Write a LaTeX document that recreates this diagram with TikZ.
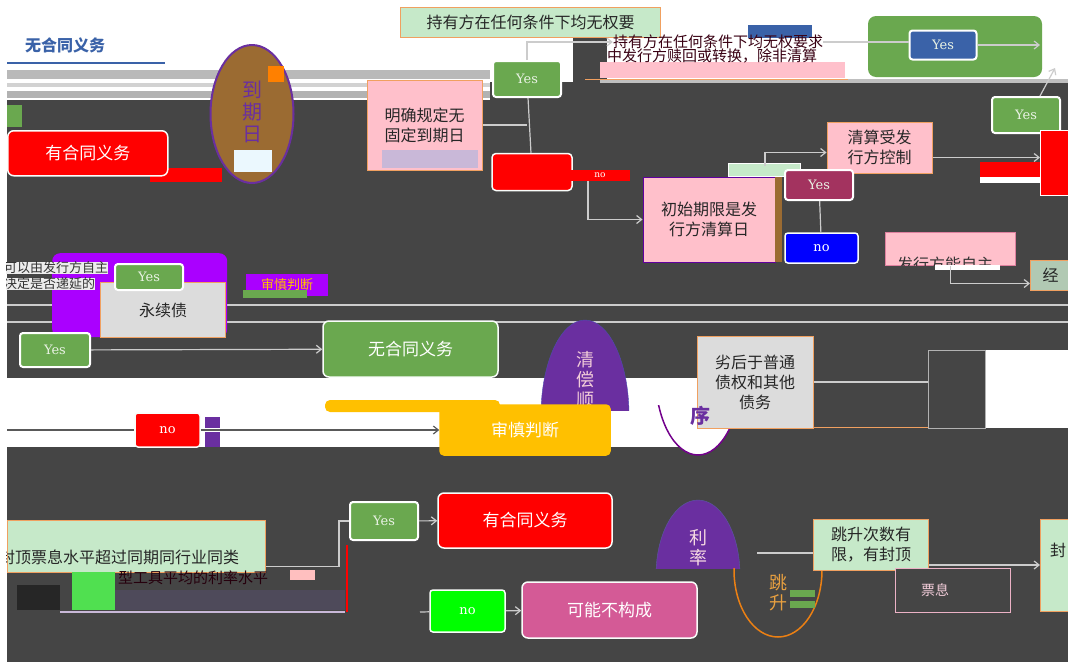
\documentclass[tikz,border=0pt]{standalone}
\usepackage{fontspec}
\setmainfont{Noto Sans CJK SC}
\newfontfamily\yesfont{DejaVu Serif}
\usetikzlibrary{shapes.geometric,arrows.meta}
\definecolor{bg}{HTML}{454545}
\definecolor{gg}{HTML}{6AA84F}
\definecolor{lgreen}{HTML}{C6E9C9}
\definecolor{pinkb}{HTML}{FFC0CB}
\definecolor{bord}{HTML}{F0A060}
\definecolor{purp}{HTML}{6A2FA0}
\definecolor{brownb}{HTML}{9B6B32}
\definecolor{blueb}{HTML}{3A62A8}
\definecolor{maroonb}{HTML}{A3335F}
\definecolor{rose}{HTML}{D45A96}
\definecolor{yel}{HTML}{FFC000}
\definecolor{vio}{HTML}{AA00FF}
\definecolor{lgray}{HTML}{DCDCDC}
\definecolor{lime}{HTML}{00FF00}
\definecolor{lav}{HTML}{C9B8D8}
\definecolor{sqgreen}{HTML}{50E050}
\definecolor{darkpg}{HTML}{4E4A5A}
\definecolor{orangetxt}{HTML}{E8A040}
\tikzset{
 every node/.style={inner sep=0pt},
 cbox/.style={draw=white!90!lgreen, line width=1.5pt, rounded corners=6pt, font=\fontsize{17}{20}\selectfont, text=white},
 tbox/.style={draw=bord, line width=1pt, font=\fontsize{16}{20}\selectfont, text=black!85, align=center},
 yesbox/.style={draw=white, line width=2pt, rounded corners=3pt, fill=gg, font=\yesfont\fontsize{13}{15}\selectfont, text=white!85!gg, minimum width=68pt, minimum height=36pt},
 nobox/.style={cbox, rounded corners=3pt, font=\yesfont\fontsize{13}{15}\selectfont},
 link/.style={draw=white!80!black, line width=1.2pt},
 dlink/.style={draw=black!65, line width=1.2pt},
 arr/.style={link, -{Straight Barb[length=5pt,width=8pt]}},
 darr/.style={dlink, -{Straight Barb[length=5pt,width=8pt]}},
 vert/.style={align=center, font=\fontsize{19}{21}\selectfont},
}
\begin{document}
\begin{tikzpicture}[x=1pt,y=-1pt]
\useasboundingbox (0,0) rectangle (1068,662);
% background
\fill[white] (0,0) rectangle (1068,662);
\fill[bg] (7,100) rectangle (1068,662);
\fill[bg] (490,82) rectangle (1068,100);
\fill[bg] (573,35) rectangle (607,82);
\fill[gray!55] (7,70) rectangle (490,79);
\fill[gray!35] (7,83) rectangle (490,87);
\fill[gray!60] (7,91) rectangle (490,98);
\fill[gray!50] (600,79) rectangle (1068,83);
\draw[bord, line width=1pt] (585,79) -- (848,79);
\fill[pinkb] (600,62) rectangle (845,78);
\fill[blueb] (748,25) rectangle (812,38);
\fill[white] (7,378) rectangle (697,447);
\fill[white] (985,350) rectangle (1068,428);
\draw[white!80!black, line width=1.5pt] (7,305) -- (1068,305);
\draw[white!80!black, line width=1.5pt] (7,322) -- (1068,322);

% title
\node[font=\fontsize{16}{18}\selectfont\bfseries, text=blueb] (title) at (65,45) {无合同义务};
\draw[blueb, line width=2pt] (7,63) -- (165,63);
\fill[gg] (7,105) rectangle (22,127);

% 有合同义务 (left)
\fill[red] (150,168) rectangle (222,182);
\node[cbox, fill=red, minimum width=160pt, minimum height=45pt, anchor=north west] (hy1) at (7,130) {有合同义务};

% 到期日 oval
\node[ellipse, draw=purp, line width=2pt, fill=brownb, minimum width=83pt, minimum height=138pt] (dq) at (252,114) {};
\fill[orange] (268,66) rectangle (284,82);
\fill[cyan!8] (234,150) rectangle (272,172);
\node[vert, text=purp, font=\fontsize{20}{22}\selectfont] (dqt) at (252,112) {到\\期\\日};

% 明确规定无固定到期日
\node[tbox, fill=pinkb, minimum width=115pt, minimum height=90pt] (mq) at (424.5,125) {明确规定无\\固定到期日};
\fill[lav] (382,150) rectangle (478,168);

% Yes and red box
\node[yesbox] (y1) at (527,79) {Yes};
\node[cbox, fill=red, minimum width=80pt, minimum height=37pt, rounded corners=4pt] (r2) at (532,172) {};
\draw[link] (y1) -- (r2);
\draw[link] (mq.east) -- (mq.east -| y1);

% top text box
\node[tbox, fill=lgreen, minimum width=260pt, minimum height=30pt, anchor=north west] (cy) at (400,7) {持有方在任何条件下均无权要};
\node[font=\fontsize{15}{17}\selectfont, text=black!70!purple] (cy2) at (718,42) {持有方在任何条件下均无权要求};
\node[font=\fontsize{15}{17}\selectfont, text=black!70!purple] (cy3) at (712,56) {中发行方赎回或转换，除非清算};
\draw[arr] (y1.north) |- (cy2.west);

% top right green and Yes
\fill[gg, rounded corners=8pt] (868,16) rectangle (1042,77);
\node[yesbox, fill=blueb, minimum width=67pt, minimum height=29pt] (y2) at (943,45) {Yes};
\coordinate (e1) at (1040,45);
\draw[link] (cy2.east) -- (cy2.east -| y2.west);
\draw[arr] (y2.east) -- (e1);

\node[yesbox, minimum height=36pt] (y3) at (1026,115) {Yes};
\coordinate (e2) at (1055,68);
\draw[arr] ([xshift=14pt]y3.north) -- (e2);
\node[fill=red, draw=white, line width=1pt, minimum width=30pt, minimum height=65pt, anchor=north west] (rR) at (1040,130) {};

% 清算受发行方控制
\node[tbox, fill=pinkb, minimum width=105pt, minimum height=51pt] (qs) at (879.5,147.5) {清算受发\\行方控制};
\draw[arr] ([yshift=-10pt]qs.east) -- ([yshift=-10pt]qs.east -| rR.west);
\fill[red] (980,162) rectangle (1040,177);
\fill[white] (980,177) rectangle (1040,183);
\fill[lgreen, draw=white] (728,163) rectangle (800,176);
\node[yesbox, fill=maroonb, minimum width=68pt, minimum height=30pt] (y4) at (819,185) {Yes};
\coordinate (c4) at (765,166);
\draw[arr] (c4) |- ([yshift=-5pt]qs.west);
\node[nobox, fill=blue, minimum width=73pt, minimum height=30pt] (n1) at (821.5,248) {no};
\draw[link] (y4) -- (n1);

% 初始期限是发行方清算日
\node[tbox, draw=purple!50!blue, fill=pinkb, minimum width=132pt, minimum height=85pt] (cs) at (709,219.5) {初始期限是发\\行方清算日};
\fill[brownb] (775,177) rectangle (782,262);
\node[fill=red, minimum width=60pt, minimum height=11pt, font=\yesfont\fontsize{9}{10}\selectfont, text=white] (noS) at (600,175) {no};
\draw[arr] ([xshift=-12pt]noS.south) |- (cs.west);

% 发行方能自主
\node[tbox, draw=purple!50, fill=pinkb, minimum width=130pt, minimum height=33pt, anchor=north west] (fz) at (885,232) {};
\node[font=\fontsize{16}{18}\selectfont, text=black!80] (fzt) at (945,264) {发行方能自主};
\fill[bg] (870,266) rectangle (1025,276);
\fill[white] (935,265) rectangle (1000,270);
\node[tbox, fill=lgreen!70!gray, minimum width=40pt, minimum height=30pt, anchor=north west] (jb) at (1030,260) {经};
\draw[arr] (fz.south) |- ([yshift=-8pt]jb.west);

% left middle
\node[fill=vio, rounded corners=8pt, minimum width=175pt, minimum height=84pt, anchor=north west] (vb) at (52,253) {};
\node[tbox, fill=lgray, minimum width=125pt, minimum height=55pt, anchor=north west] (yx) at (100,282) {永续债};
\node[yesbox, minimum height=26pt] (y5) at (149,277) {Yes};
\node[font=\fontsize{13}{15}\selectfont, text=black!80, fill=white!85!gray, anchor=west] (lt1) at (4,268) {可以由发行方自主};
\node[font=\fontsize{13}{15}\selectfont, text=black!80, fill=white!85!gray, anchor=west] (lt2) at (4,284) {决定是否递延的};
\node[fill=vio, font=\fontsize{13}{15}\selectfont, text=yel, minimum width=82pt, minimum height=22pt] (s1) at (287,285) {审慎判断};
\fill[gg] (243,290) rectangle (307,298);

\node[yesbox, minimum width=70pt, minimum height=34pt] (y6) at (55,350) {Yes};
\node[cbox, fill=gg, minimum width=175pt, minimum height=56pt] (w1) at (410.5,349) {无合同义务};
\draw[arr] (y6) -- (w1);

% 清偿顺序 oval
\begin{scope}
\clip (0,0) rectangle (1068,410);
\node[ellipse, fill=purp, draw=blue!40!gray, minimum width=88pt, minimum height=190pt] (o2) at (585,415) {};
\end{scope}
\fill[purp] (538,408) rectangle (610,420);
\node[vert, text=white!80!purple, font=\fontsize{18}{20}\selectfont] (o2t) at (585,380) {清\\偿\\顺};
\begin{scope}
\clip (640,405) rectangle (760,462);
\node[ellipse, draw=blue!40!purple, line width=1.5pt, fill=white, minimum width=85pt, minimum height=160pt] (o2b) at (698,375) {};
\end{scope}

% 劣后于普通债权和其他债务
\node[tbox, fill=lgray, minimum width=116pt, minimum height=92pt] (lh) at (755,382) {劣后于普通\\债权和其他\\债务};
\node[draw=bord, fill=bg, minimum width=115pt, minimum height=45pt, anchor=north west] (db) at (813,382) {};
\node[draw=white!70!black, fill=bg, minimum width=57pt, minimum height=78pt, anchor=north west] (dk) at (928,350) {};
\draw[link] (lh.east) -- (lh.east -| dk.west);
\node[font=\fontsize{20}{22}\selectfont\bfseries, text=purp] (xu) at (700,416) {序};

% no -> 审慎判断
\fill[yel, rounded corners=5pt] (325,400) rectangle (500,412);
\node[nobox, fill=red, minimum width=65pt, minimum height=34pt] (n2) at (167.5,430) {no};
\fill[purp] (205,417) rectangle (220,428);
\fill[purp] (205,432) rectangle (220,447);
\node[cbox, draw=yel, fill=yel, rounded corners=4pt, minimum width=170pt, minimum height=50pt] (s2) at (525,430) {审慎判断};
\coordinate (c7) at (7,430);
\draw[dlink] (c7) -- (n2);
\draw[darr] (n2) -- (s2);

% bottom left
\node[tbox, fill=lgreen, minimum width=258pt, minimum height=52pt, anchor=north west] (fd) at (7,520) {};
\node[font=\fontsize{16}{18}\selectfont, text=black!85, anchor=west] (fdt) at (-1,557) {封顶票息水平超过同期同行业同类};
\fill[pink] (290,570) rectangle (315,580);
\fill[sqgreen] (72,572) rectangle (115,610);
\fill[darkpg] (115,590) rectangle (345,610);
\fill[black!85] (17,585) rectangle (60,610);
\draw[lav, line width=1.5pt] (60,612) -- (345,612);
\node[font=\fontsize{15}{17}\selectfont, text=black!80!purple, anchor=west] (fdt2) at (118,578) {型工具平均的利率水平};

\node[yesbox, minimum height=38pt] (y7) at (384,521) {Yes};
\draw[link] ([yshift=-20pt]fd.east) -| ([xshift=-10pt]y7.west) -- (y7.west);
\draw[red, line width=2pt] (347,545) -- (347,612);
\node[cbox, fill=red, minimum width=174pt, minimum height=55pt] (h2) at (525,520.5) {有合同义务};
\draw[arr] (y7) -- (h2);
\node[nobox, fill=lime, minimum width=75pt, minimum height=42pt] (n3) at (467.5,611) {no};
\node[cbox, fill=rose, minimum width=175pt, minimum height=56pt] (kn) at (609.5,610) {可能不构成};
\coordinate (c9) at (420,612);
\draw[link] (c9) -- (n3);
\draw[arr] (n3) -- (kn);

% 利率跳升 oval
\begin{scope}
\clip (0,0) rectangle (1068,568);
\node[ellipse, fill=purp, draw=blue!30!gray, minimum width=84pt, minimum height=150pt] (o3) at (698,575) {};
\node[vert, text=white!85!purple, font=\fontsize{18}{20}\selectfont] (o3t) at (698,548) {利\\率};
\end{scope}
\begin{scope}
\clip (725,568) rectangle (835,645);
\node[ellipse, draw=orange!70!brown, line width=1.5pt, minimum width=88pt, minimum height=134pt] (o3b) at (778,570) {};
\end{scope}
\node[vert, text=orangetxt, font=\fontsize{18}{20}\selectfont] (o3c) at (778,593) {跳\\升};
\fill[gg] (790,590) rectangle (815,597);
\fill[gg] (790,601) rectangle (815,608);

\node[tbox, fill=lgreen, minimum width=115pt, minimum height=51pt, anchor=north west] (ts) at (813,519) {跳升次数有\\限，有封顶};
\coordinate (c10) at (757,553);
\draw[link] (c10) -- (c10 -| ts.west);
\node[draw=white!70!purple, fill=bg, minimum width=115pt, minimum height=44pt, anchor=north west] (pb) at (895,568) {};
\node[font=\fontsize{14}{16}\selectfont, text=white!80!purple] (pbt) at (935,590) {票息};
\node[tbox, fill=lgreen, minimum width=40pt, minimum height=92pt, anchor=north west] (rb) at (1040,519) {};
\node[font=\fontsize{16}{18}\selectfont, text=black!85] (rbt) at (1058,550) {封};
\draw[arr] ([yshift=-20pt]ts.east) -- ([yshift=-20pt]ts.east -| rb.west);

% left margin
\fill[white] (0,0) rectangle (6,662);
\end{tikzpicture}
\end{document}
